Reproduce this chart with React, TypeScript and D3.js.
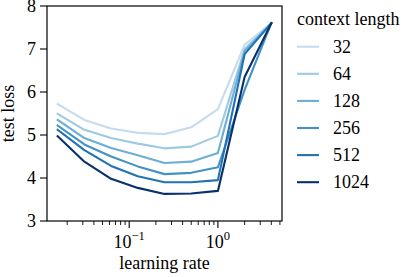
import React from 'react';
import * as d3 from 'd3';

const learningRates = [1 / 64, 1 / 32, 1 / 16, 1 / 8, 1 / 4, 1 / 2, 1, 2, 4];
const contextLengths = ['32', '64', '128', '256', '512', '1024'];
const loss32 = [5.72, 5.35, 5.15, 5.05, 5.02, 5.18, 5.6, 7.1, 7.6];
const loss64 = [5.49, 5.12, 4.93, 4.8, 4.69, 4.73, 4.98, 7.0, 7.6];
const loss128 = [5.35, 4.93, 4.7, 4.53, 4.35, 4.38, 4.58, 6.95, 7.6];
const loss256 = [5.22, 4.78, 4.5, 4.27, 4.09, 4.12, 4.25, 6.05, 7.6];
const loss512 = [5.12, 4.65, 4.28, 4.04, 3.9, 3.9, 3.95, 6.88, 7.6];
const loss1024 = [4.97, 4.38, 3.98, 3.77, 3.63, 3.64, 3.7, 6.35, 7.6];
const allLosses = [loss32, loss64, loss128, loss256, loss512, loss1024];
const seriesColors = ['#c6dbef', '#9ecae1', '#6baed6', '#4292c6', '#2171b5', '#08306b'];
const yTicks = [3, 4, 5, 6, 7, 8];
const xMajorExps = [-1, 0];

const W = 415;
const H = 277;
const L = 47, R = 282, T = 6, B = 221;
const FONT = '"Liberation Serif", "Times New Roman", serif';
const FS = 18;

export default function App() {
  const lmin = Math.log10(d3.min(learningRates)!);
  const lmax = Math.log10(d3.max(learningRates)!);
  const pad = (lmax - lmin) * 0.05;
  const x = d3.scaleLog().domain([10 ** (lmin - pad), 10 ** (lmax + pad)]).range([L, R]);
  const y = d3.scaleLinear().domain([3, 8]).range([B, T]);
  const line = d3
    .line<[number, number]>()
    .x((d) => x(d[0]))
    .y((d) => y(d[1]));

  const [d0, d1] = x.domain();
  const minor: number[] = [];
  for (let e = Math.floor(Math.log10(d0)); e <= Math.ceil(Math.log10(d1)); e++) {
    for (let m = 2; m <= 9; m++) {
      const v = m * 10 ** e;
      if (v >= d0 && v <= d1) minor.push(v);
    }
  }

  return (
    <svg width={W} height={H} style={{ position: 'absolute', left: 0, top: 0 }} fontFamily={FONT}>
      <rect width={W} height={H} fill="white" />
      {allLosses.map((vals, i) => (
        <path
          key={i}
          d={line(learningRates.map((lr, j) => [lr, vals[j]]))!}
          fill="none"
          stroke={seriesColors[i]}
          strokeWidth={2.1}
          strokeLinejoin="round"
          strokeLinecap="square"
        />
      ))}
      <rect x={L} y={T} width={R - L} height={B - T} fill="none" stroke="black" strokeWidth={1.2} />
      {yTicks.map((t) => (
        <g key={t}>
          <line x1={L - 7} x2={L} y1={y(t)} y2={y(t)} stroke="black" strokeWidth={1.1} />
          <text x={L - 11} y={y(t)} dy="0.34em" textAnchor="end" fontSize={FS}>
            {t}
          </text>
        </g>
      ))}
      {minor.map((v, i) => (
        <line key={i} x1={x(v)} x2={x(v)} y1={B} y2={B + 4} stroke="black" strokeWidth={0.9} />
      ))}
      {xMajorExps.map((e) => (
        <g key={e}>
          <line x1={x(10 ** e)} x2={x(10 ** e)} y1={B} y2={B + 7} stroke="black" strokeWidth={1.1} />
          <text x={x(10 ** e)} y={248} textAnchor="middle" fontSize={FS}>
            10
            <tspan dy={-8} fontSize={FS * 0.7}>
              {e < 0 ? '\u2212' + Math.abs(e) : String(e)}
            </tspan>
          </text>
        </g>
      ))}
      <text x={(L + R) / 2} y={269} textAnchor="middle" fontSize={FS}>
        learning rate
      </text>
      <text
        transform={`translate(${14},${(T + B) / 2}) rotate(-90)`}
        textAnchor="middle"
        fontSize={FS}
      >
        test loss
      </text>
      <text x={297} y={25} fontSize={FS}>
        context length
      </text>
      {contextLengths.map((c, i) => {
        const yy = 46.7 + i * 27.1;
        return (
          <g key={c}>
            <line x1={297} x2={319} y1={yy} y2={yy} stroke={seriesColors[i]} strokeWidth={2.1} />
            <text x={333} y={yy} dy="0.34em" fontSize={FS}>
              {c}
            </text>
          </g>
        );
      })}
    </svg>
  );
}
